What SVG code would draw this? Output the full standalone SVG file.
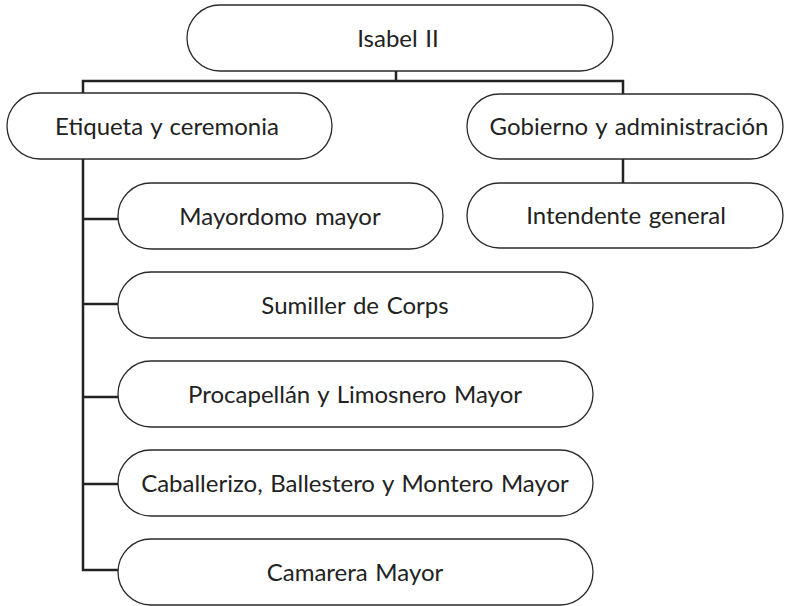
<svg xmlns="http://www.w3.org/2000/svg" width="791" height="606" viewBox="0 0 791 606">
<style>
.box{fill:#fff;stroke:#2a2a2a;stroke-width:1.3}
.lbl{font-family:Lato,"Open Sans",sans-serif;font-size:24px;word-spacing:1.5px;fill:#222;text-anchor:middle}
.con{fill:none;stroke:#222;stroke-width:2.5}
</style>
<rect width="791" height="606" fill="#fff"/>
<g id="connectors">
<path class="con" d="M396,71V81M83,93V81H623V94M623,159V183M83,159V570H118M83,219H118M83,304H118M83,397H118M83,484H118"/>
</g>
<g id="n-isabel"><rect class="box" x="187" y="5" width="426" height="66" rx="33"/><text class="lbl" x="398" y="47">Isabel II</text></g>
<g id="n-etiqueta"><rect class="box" x="7" y="93" width="325" height="66" rx="33"/><text class="lbl" x="167" y="135">Etiqueta y ceremonia</text></g>
<g id="n-gobierno"><rect class="box" x="467" y="94" width="316" height="65" rx="32.5"/><text class="lbl" x="629" y="135">Gobierno y administración</text></g>
<g id="n-intendente"><rect class="box" x="467" y="183" width="316" height="65" rx="32.5"/><text class="lbl" x="626" y="224">Intendente general</text></g>
<g id="n-mayordomo"><rect class="box" x="118" y="183" width="325" height="66" rx="33"/><text class="lbl" x="280" y="225">Mayordomo mayor</text></g>
<g id="n-sumiller"><rect class="box" x="118" y="272" width="475" height="66" rx="33"/><text class="lbl" x="355" y="314">Sumiller de Corps</text></g>
<g id="n-procapellan"><rect class="box" x="118" y="361" width="475" height="66" rx="33"/><text class="lbl" x="355" y="403">Procapellán y Limosnero Mayor</text></g>
<g id="n-caballerizo"><rect class="box" x="118" y="450" width="475" height="66" rx="33"/><text class="lbl" x="355" y="492">Caballerizo, Ballestero y Montero Mayor</text></g>
<g id="n-camarera"><rect class="box" x="118" y="539" width="475" height="66" rx="33"/><text class="lbl" x="355" y="581">Camarera Mayor</text></g>
</svg>
